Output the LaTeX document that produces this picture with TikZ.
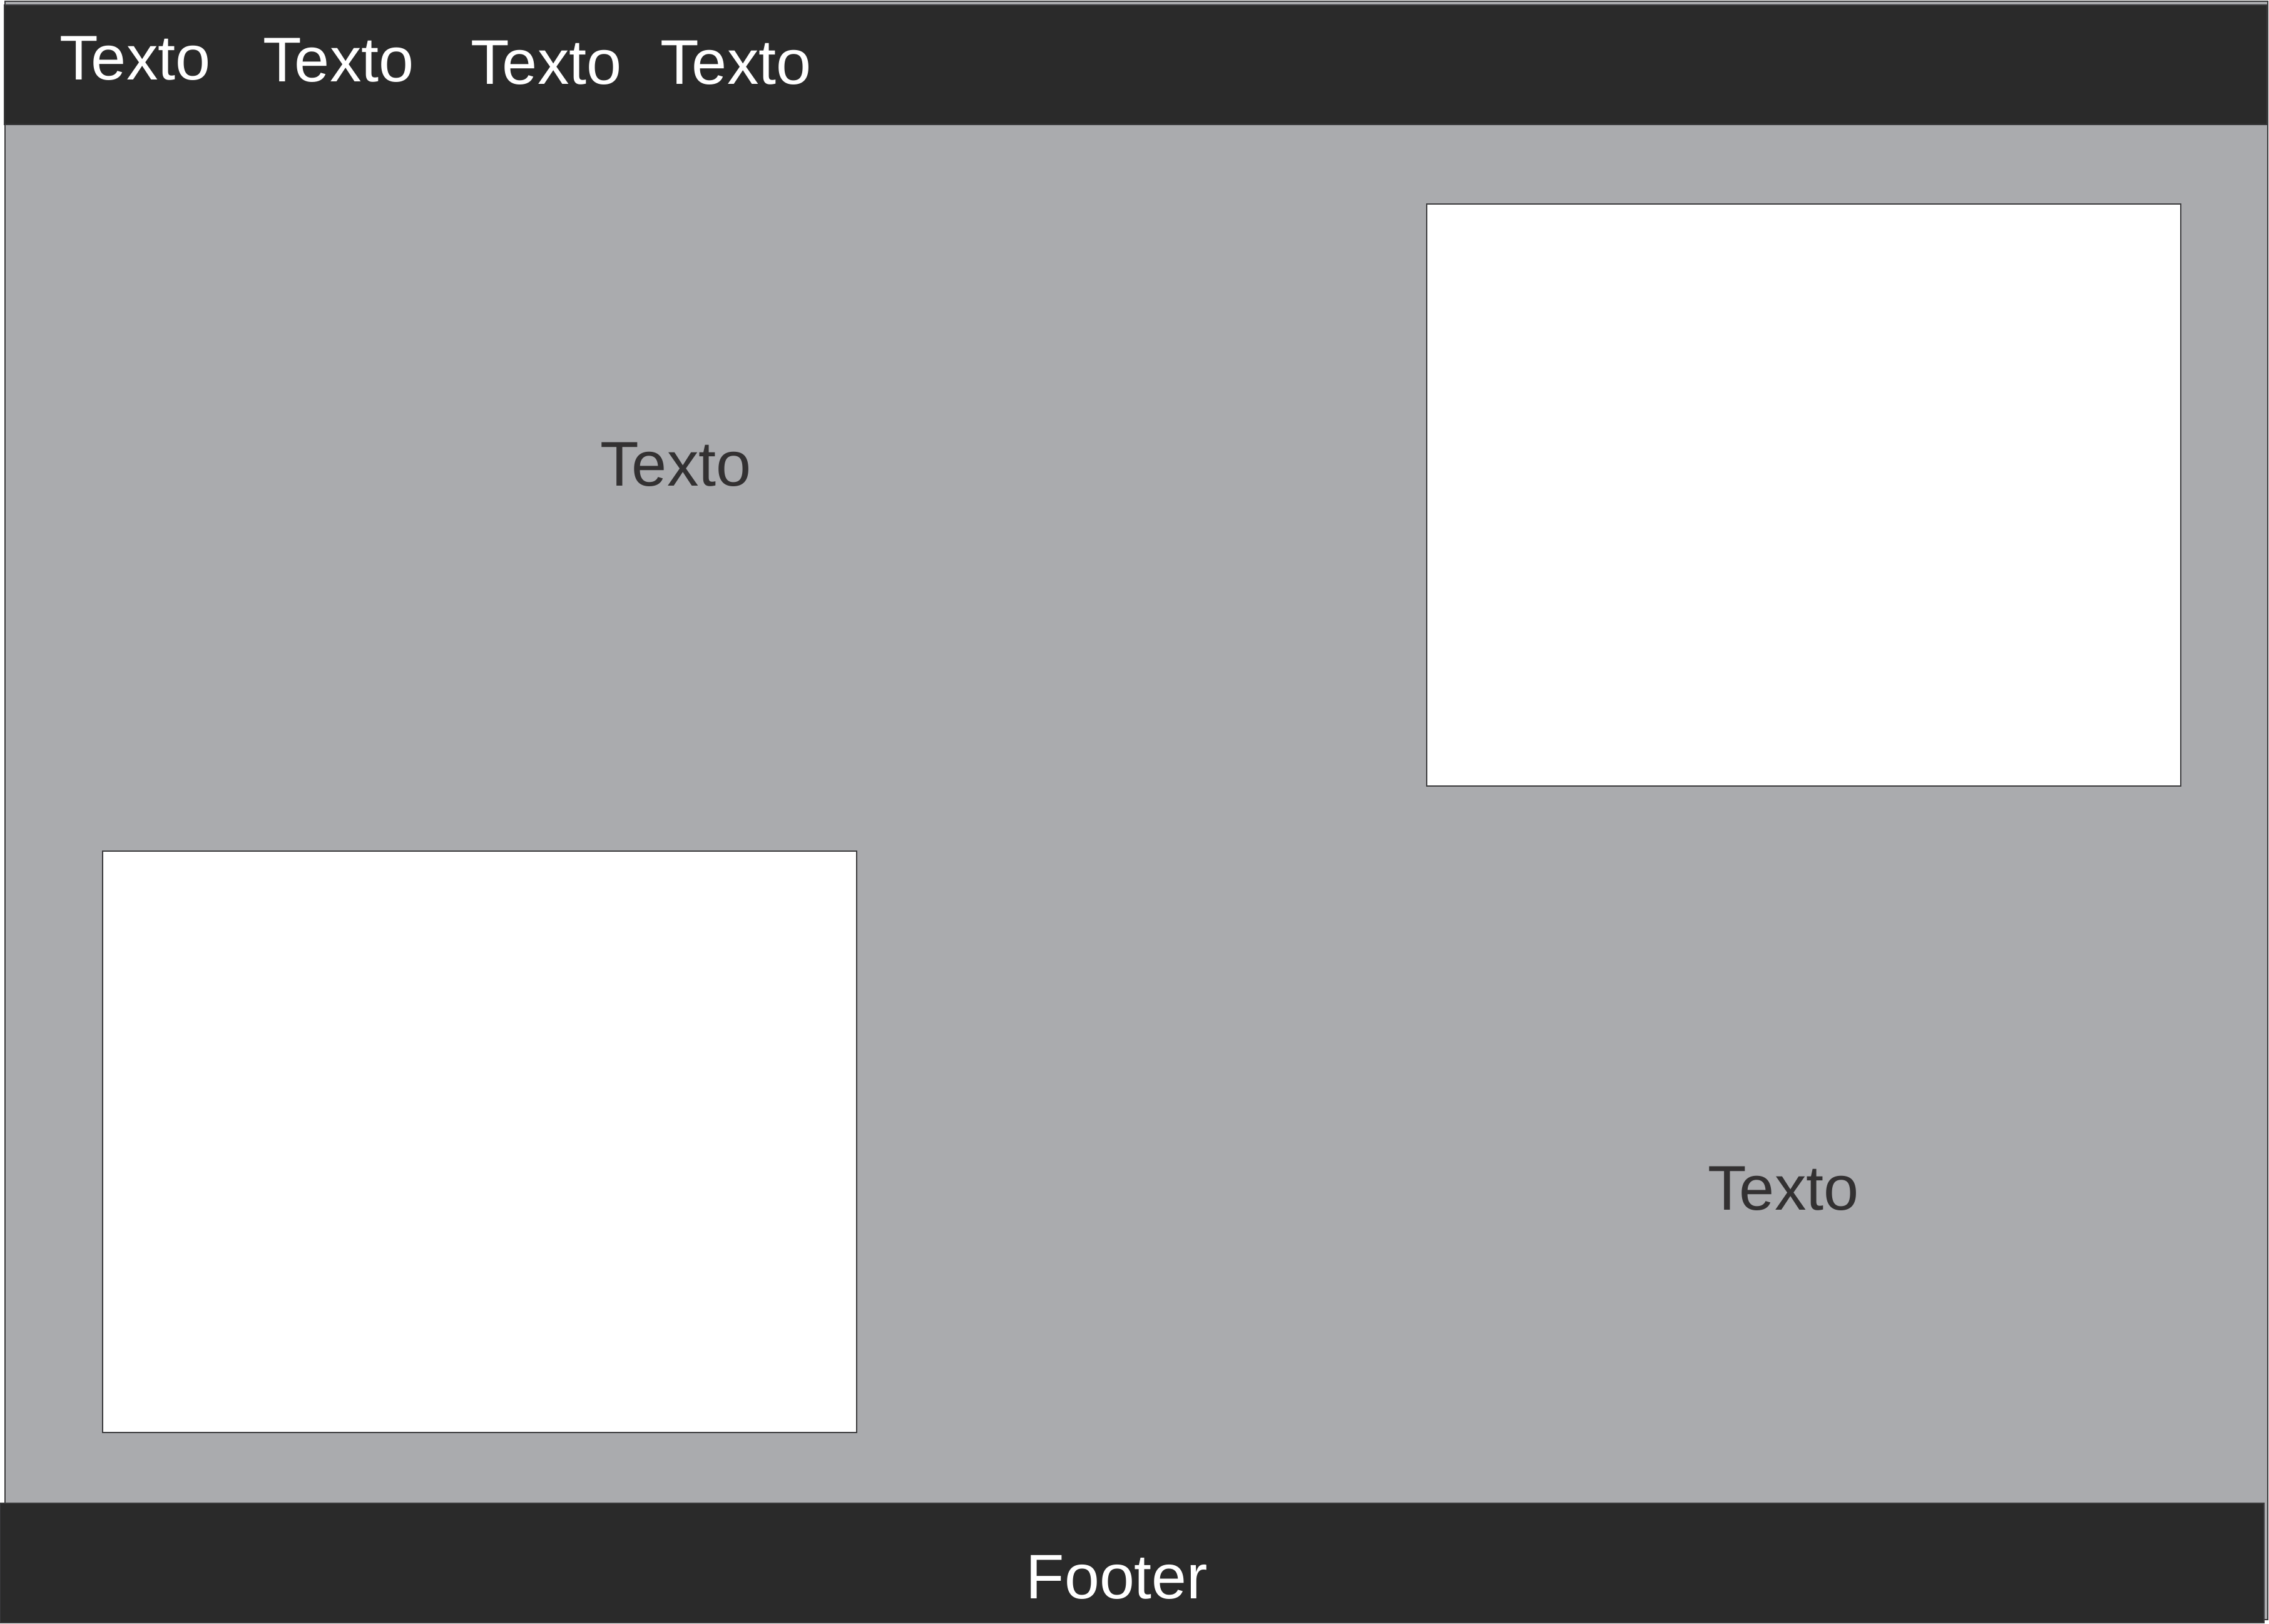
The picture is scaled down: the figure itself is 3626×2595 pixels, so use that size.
\documentclass[tikz,border=0pt]{standalone}
\usepackage{fontspec}
\setmainfont{Liberation Sans}
\usetikzlibrary{positioning}

\definecolor{barcol}{HTML}{2A2A2A}
\definecolor{bodycol}{HTML}{AAABAE}
\definecolor{txtcol}{HTML}{333132}
\definecolor{edgecol}{HTML}{3A3A3C}

\tikzset{
    bar/.style={fill=barcol, draw=edgecol, line width=0.7pt},
    panel/.style={fill=white, draw=edgecol, line width=0.6pt},
    menutext/.style={anchor=base, inner sep=0pt, text=white, font=\fontsize{28.7}{34}\selectfont},
    bodytext/.style={anchor=base, inner sep=0pt, text=txtcol, font=\fontsize{28.7}{34}\selectfont}
}

\begin{document}
\begin{tikzpicture}[x=0.01cm, y=-0.01cm]
    \useasboundingbox (0, 0) rectangle (3626, 2595);
    \fill[white] (0, 0) rectangle (3626, 2595);

    % page body
    \draw[fill=bodycol, draw=edgecol, line width=0.7pt] (8, 2) rectangle (3624, 2588);

    % header and footer bars
    \draw[bar] (7, 8) rectangle (3623, 199);
    \draw[bar] (0, 2402) rectangle (3618, 2593);

    % image panels
    \draw[panel] (2280, 326) rectangle (3485, 1256);
    \draw[panel] (164, 1360) rectangle (1369, 2289);

    % menu
    \node (menu1) [menutext] at (216, 128) {Texto};
    \node (menu2) [menutext] at (541, 131) {Texto};
    \node (menu3) [menutext] at (873, 135) {Texto};
    \node (menu4) [menutext] at (1176, 135) {Texto};

    % content
    \node (text1) [bodytext] at (1080, 777) {Texto};
    \node (text2) [bodytext] at (2850, 1933) {Texto};

    \node (footer) [menutext, font=\fontsize{28.6}{34}\selectfont] at (1785, 2554) {Footer};
\end{tikzpicture}
\end{document}
